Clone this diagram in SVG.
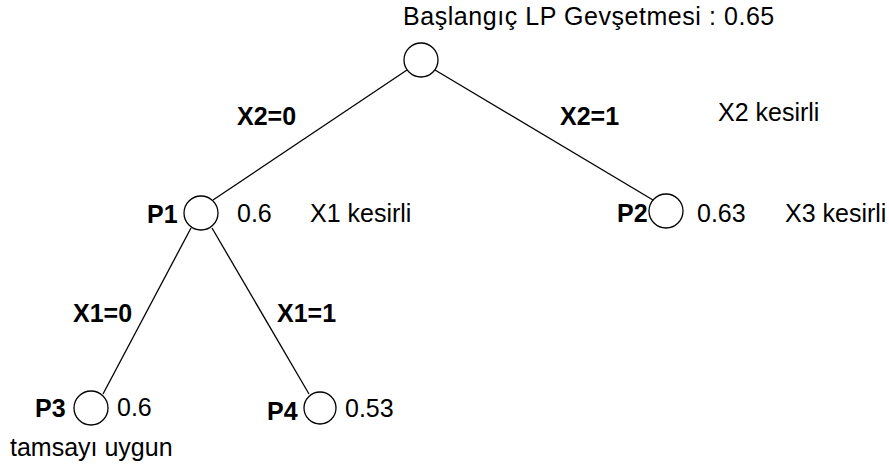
<svg xmlns="http://www.w3.org/2000/svg" width="889" height="468" viewBox="0 0 889 468">
<style>
text{font-family:"Liberation Sans",Arial,sans-serif;font-size:25px;fill:#000}
.b{font-weight:bold}
.t{letter-spacing:0.55px}
.n{fill:#fff;stroke:#000;stroke-width:1.3}
.e{stroke:#000;stroke-width:1.3;fill:none}
</style>
<rect width="889" height="468" fill="#fff"/>
<g id="edges">
<line class="e" x1="407" y1="70" x2="213" y2="200"/>
<line class="e" x1="435" y1="70" x2="653" y2="200"/>
<line class="e" x1="191" y1="228" x2="103" y2="394"/>
<line class="e" x1="212" y1="228" x2="309" y2="394"/>
<text class="b" x="237" y="125">X2=0</text>
<text class="b" x="560" y="125">X2=1</text>
<text class="b" x="73" y="322">X1=0</text>
<text class="b" x="277" y="322">X1=1</text>
</g>
<g id="root">
<circle class="n" cx="421" cy="60" r="17"/>
<text class="t" x="403" y="25">Başlangıç LP Gevşetmesi : 0.65</text>
<text x="718" y="121">X2 kesirli</text>
</g>
<g id="P1">
<circle class="n" cx="201" cy="213" r="17"/>
<text class="b" x="147" y="223">P1</text>
<text x="237" y="222">0.6</text>
<text x="310" y="222">X1 kesirli</text>
</g>
<g id="P2">
<circle class="n" cx="666" cy="211" r="17"/>
<text class="b" x="617" y="222">P2</text>
<text x="697" y="222">0.63</text>
<text x="785" y="222">X3 kesirli</text>
</g>
<g id="P3">
<circle class="n" cx="91" cy="408" r="17"/>
<text class="b" x="35" y="417">P3</text>
<text x="117" y="416">0.6</text>
<text x="10" y="456">tamsayı uygun</text>
</g>
<g id="P4">
<circle class="n" cx="320" cy="408" r="16"/>
<text class="b" x="267" y="420">P4</text>
<text x="345" y="417">0.53</text>
</g>
</svg>
